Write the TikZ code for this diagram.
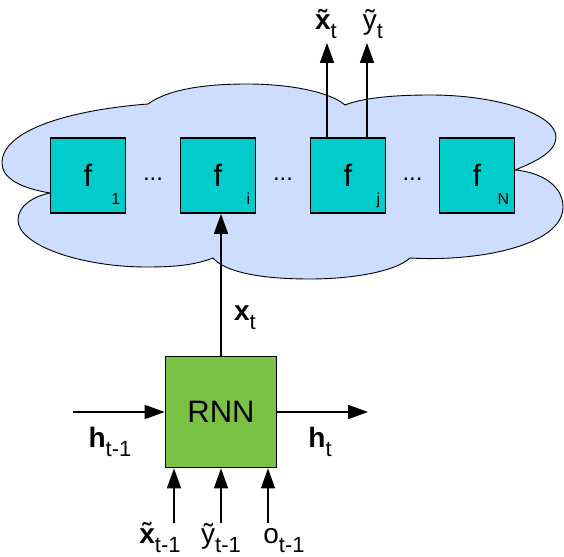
\documentclass[tikz,border=0pt]{standalone}
\usepackage{fontspec}
\setmainfont{Liberation Sans}
\usetikzlibrary{arrows.meta}
\definecolor{cloudfill}{RGB}{204,221,255}
\definecolor{ffill}{RGB}{0,204,204}
\definecolor{rnnfill}{RGB}{122,194,70}
\newcommand{\lowsub}[1]{\raisebox{-9pt}{\fontsize{22}{22}\selectfont #1}}

\begin{document}
\begin{tikzpicture}[x=1pt, y=-1pt,
	fnode/.style={draw, line width=1.7pt, fill=ffill, minimum width=75pt, minimum height=75pt, inner sep=0pt},
	arrow/.style={-{Triangle[length=20pt, width=14pt]}, line width=1.6pt},
	lbl/.style={anchor=base, inner sep=0pt, font=\fontsize{28}{28}\selectfont}]
	\useasboundingbox (0,0) rectangle (564,556);

	\draw[fill=cloudfill, line width=0.9pt] (50,193) .. controls (20,188) and (2,178) .. (2,163)
		.. controls (2,130) and (70,110) .. (148,104)
		.. controls (170,88) and (210,84) .. (247,84)
		.. controls (290,84) and (330,92) .. (345,105)
		.. controls (365,97) and (400,95) .. (430,95)
		.. controls (500,95) and (556,115) .. (556,137)
		.. controls (556,152) and (535,162) .. (515,170)
		.. controls (540,172) and (563,185) .. (563,207)
		.. controls (563,245) and (480,262) .. (410,258)
		.. controls (395,272) and (350,279) .. (310,279)
		.. controls (260,279) and (225,272) .. (213,258)
		.. controls (195,265) and (175,267) .. (147,267)
		.. controls (80,267) and (18,245) .. (18,220)
		.. controls (18,205) and (35,196) .. (50,193) -- cycle;

	\foreach \n/\x in {1/88, i/218, j/348, N/477} {
		\node[fnode] (f\n) at (\x,175.5) {};
		\node[font=\fontsize{31}{31}\selectfont] at (f\n) {f};
		\node[anchor=base east, inner sep=0pt, font=\fontsize{16}{16}\selectfont] at ([xshift=-6pt, yshift=9pt]f\n.south east) {\n};
	}
	\foreach \a/\b in {f1/fi, fi/fj, fj/fN}
		\path (\a) -- (\b) node[midway, yshift=-3.5pt, font=\fontsize{24}{24}\selectfont] {...};

	\node[draw, line width=1.7pt, fill=rnnfill, minimum size=111pt, font=\fontsize{31}{31}\selectfont] (rnn) at (221,412) {RNN};
	\draw[arrow] (rnn.north) -- (rnn.north |- fi.south);

	\coordinate (hin) at (73,412);
	\coordinate (hout) at (368,412);
	\draw[arrow] (hin) -- (rnn.west);
	\draw[arrow] (rnn.east) -- (hout);
	\foreach \x/\nm in {174/xin, 221/yin, 268/oin} {
		\coordinate (\nm) at (\x,523);
		\draw[arrow] (\nm) -- (\nm |- rnn.south);
	}

	\coordinate (xout) at (327,43);
	\coordinate (yout) at (367,43);
	\draw[arrow] (xout |- fj.north) -- (xout);
	\draw[arrow] (yout |- fj.north) -- (yout);

	\node[lbl] (lxt) at (326,30) {{\bfseries\~{x}}\lowsub{t}};
	\node[lbl] (lyt) at (373,30) {\~{y}\lowsub{t}};
	\node[lbl] (lx) at (245,320) {{\bfseries x}\lowsub{t}};
	\node[lbl] (lhin) at (110,447) {{\bfseries h}\lowsub{t-1}};
	\node[lbl] (lhout) at (320,447) {{\bfseries h}\lowsub{t}};
	\node[lbl] (lxin) at (160,543) {{\bfseries\~{x}}\lowsub{t-1}};
	\node[lbl] (lyin) at (221,543) {\~{y}\lowsub{t-1}};
	\node[lbl] (loin) at (284,543) {o\lowsub{t-1}};
\end{tikzpicture}
\end{document}
